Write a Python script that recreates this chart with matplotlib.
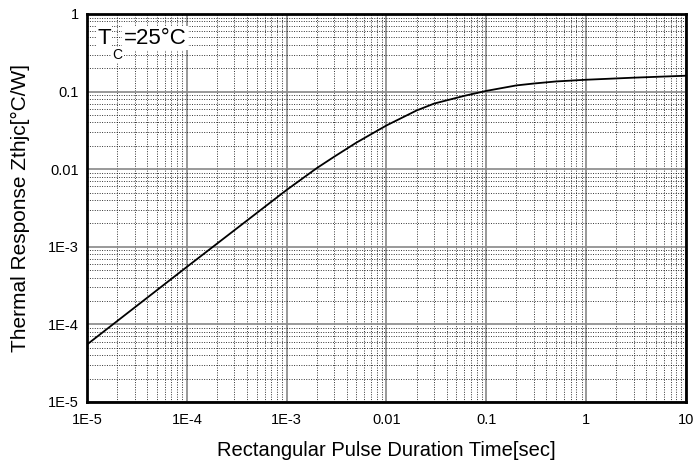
import numpy as np
import matplotlib.pyplot as plt
from matplotlib.ticker import LogLocator, FixedLocator, NullFormatter

plt.rcParams['font.family'] = ['Liberation Sans', 'DejaVu Sans']

# curve (pulse width [s] -> Zthjc [C/W])
pulse_t = [1e-5, 1e-4, 1e-3, 2e-3, 3e-3, 5e-3, 1e-2, 2e-2, 3e-2, 6e-2,
           1e-1, 2e-1, 3e-1, 5e-1, 1, 3, 10]
zth = [5.5e-5, 5.5e-4, 5.4e-3, 0.0103, 0.0145, 0.022, 0.0366, 0.057, 0.07,
       0.088, 0.102, 0.12, 0.127, 0.135, 0.142, 0.151, 0.16]

x_ticks = [1e-5, 1e-4, 1e-3, 1e-2, 1e-1, 1, 10]
x_labels = ['1E-5', '1E-4', '1E-3', '0.01', '0.1', '1', '10']
y_ticks = [1e-5, 1e-4, 1e-3, 1e-2, 1e-1, 1]
y_labels = ['1E-5', '1E-4', '1E-3', '0.01', '0.1', '1']

fig = plt.figure(figsize=(6.96, 4.65), dpi=100)
ax = fig.add_axes([0.125, 0.1355, 0.8606, 0.8345])

ax.set_xscale('log')
ax.set_yscale('log')
ax.set_xlim(1e-5, 10)
ax.set_ylim(1e-5, 1)

ax.plot(pulse_t, zth, color='black', lw=1.3, zorder=3)

ax.xaxis.set_major_locator(FixedLocator(x_ticks))
ax.set_xticklabels(x_labels)
ax.yaxis.set_major_locator(FixedLocator(y_ticks))
ax.set_yticklabels(y_labels)
for axis in (ax.xaxis, ax.yaxis):
    axis.set_minor_locator(LogLocator(base=10, subs=np.arange(2, 10), numticks=20))
    axis.set_minor_formatter(NullFormatter())

ax.grid(True, which='major', color='#888888', lw=1.2, ls='-')
ax.grid(True, which='minor', color='black', lw=0.7, ls=(0, (1, 1.5)), alpha=0.8)
ax.tick_params(which='both', length=0, labelsize=10.5, colors='black')
ax.tick_params(axis='x', pad=8)
ax.tick_params(axis='y', pad=6)

for s in ax.spines.values():
    s.set_linewidth(2)
    s.set_color('black')

ax.set_xlabel('Rectangular Pulse Duration Time[sec]', fontsize=14.5, labelpad=10)
ax.set_ylabel('Thermal Response Zthjc[\u00b0C/W]', fontsize=15, labelpad=13)

# T_C = 25 C annotation, subscript drawn as its own text
box = dict(facecolor='white', edgecolor='none', pad=1)
ax.text(0.017, 0.965, 'T', transform=ax.transAxes, fontsize=16,
        va='top', ha='left', bbox=box, zorder=5)
ax.text(0.061, 0.965, '=25\u00b0C', transform=ax.transAxes, fontsize=16,
        va='top', ha='left', bbox=box, zorder=5)
ax.text(0.042, 0.912, 'C', transform=ax.transAxes, fontsize=10,
        va='top', ha='left', bbox=box, zorder=6)

fig.savefig('out.png', dpi=100)
